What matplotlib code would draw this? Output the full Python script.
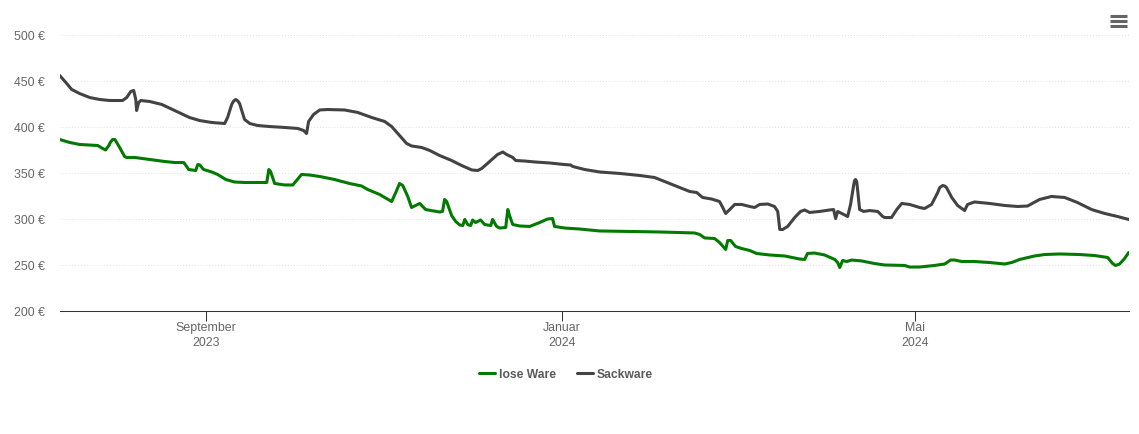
from datetime import date, timedelta
import matplotlib
matplotlib.use("Agg")
import matplotlib.pyplot as plt
import matplotlib.dates as mdates
from matplotlib.transforms import ScaledTranslation

START = date(2023, 7, 13)
END = date(2024, 7, 13)

sack_days = [0,2.1,4.1,6.8,10.3,13.7,17.1,21.5,22.9,24.3,25.3,26,26.3,27,27.7,30.8,34.9,39.3,44.4,47.9,52,56.4,57.4,58.8,59.5,60.2,60.9,61.5,63.2,65,67.7,71.8,76.9,81.4,83.4,84.4,85.1,86.8,88.9,91.6,97.4,101.9,106.7,111.1,113.5,116.2,118.6,120.3,123.8,126.5,129.9,134,137.4,140.9,142.9,144.3,147,149.7,151.5,152.8,154.9,155.9,159,162.4,167.5,172.6,174.7,175.4,179.5,184.6,191.5,198.3,203.4,206.8,212,215.4,217.8,219.8,222.9,225.6,226.7,227.7,229.1,230.8,233.2,235.9,237.6,239.3,242.1,244.4,245.5,246.2,247.2,248.9,251.3,253.3,254.7,256.4,259.8,263.2,264.6,265.3,266,267.4,269.4,270.4,271.5,271.8,272.1,272.5,272.8,273.5,274.9,276.9,279.7,281.4,282.1,284.4,286.2,287.9,290.6,294,295.7,298.1,300.2,300.9,301.9,302.6,303.2,305,307,309.4,310.4,312.8,317.9,323.1,327.5,330.9,335,339.1,343.6,348,352.8,357.3,361.7,365.5]
sack_vals = [456,448.4,440.8,436.4,432,429.9,428.8,428.8,432,438.6,439.7,429.9,417.9,426.6,428.8,427.7,424.5,417.9,410.3,407,404.9,403.8,410.3,424.5,428.3,429.9,428.3,425.6,408.2,403.8,401.6,400.5,399.5,398.4,396.2,392.9,406,413.6,418.5,419,418.5,415.8,410.3,406,400.5,390.8,382.1,379.4,377.7,374.5,369,363.6,358.2,353.3,352.7,354.9,362.5,370.1,372.8,370.1,366.9,363.6,363,362,360.9,359.2,358.7,357.1,353.8,351.1,349.5,347.3,345.1,340.8,334.2,329.9,328.8,323.4,321.7,319,312.5,306,310.3,315.8,315.8,313.6,312.5,315.8,316.3,313.6,308.2,288.6,288.6,291.9,301.6,308.2,309.8,307.1,308.2,309.8,310.3,300.5,308.2,306,302.7,315.8,337.5,341.9,342.9,340.8,332.1,310.3,308.2,309.2,308.2,302.7,301.6,301.6,310.3,316.9,315.8,312.5,311.4,315.8,328.8,334.2,336.4,335.8,334.2,323.4,314.7,309.2,315.8,318.5,316.9,314.7,313.6,314.1,321.2,324.5,323.4,317.9,310.3,306,302.7,299.5]

lose_days = [0,3.4,6.8,10.3,13,14.7,15.7,16.8,17.4,18.1,18.8,19.1,20.5,22.2,22.9,25.6,30.8,35.9,39.3,42.4,43.4,44.1,46.5,47.2,47.9,49.2,52,54,56.8,59.8,63.2,68.4,70.8,71.5,72.1,73.5,76.9,79.7,81,82.7,85.5,88.9,94,99.1,103.2,105.3,109.4,113.5,114.9,116.2,117.3,119,120.3,121.7,123.1,125.1,129.9,130.9,131.6,132.3,134,135.4,136.8,137.8,138.5,139.5,140.5,141.2,142.2,143.9,145.3,147.4,148,149.4,150.4,152.5,153.2,153.8,154.9,157.3,160.7,164.1,166.8,168.5,169.2,172.6,177.8,184.6,194.9,205.1,217.1,218.8,220.5,223.9,225.6,227.7,228.4,229.4,231.1,233.2,235.9,238.3,242.7,247.9,253,254.7,255.7,258.1,261.5,265,266,266.7,267.7,269.1,270.8,274.2,278.6,282.1,288.9,290.6,294,299.1,302.6,304.6,306,308.4,312.8,317.9,323.1,325.5,328.2,333.3,336.8,341.9,348.7,353.8,358.3,360,361,362.4,364.1,365.5]
lose_vals = [386.4,383.2,381,380.4,379.9,376.6,375,379.9,383.7,386.4,386.4,385.3,377.7,367.9,366.9,366.9,364.7,362.5,361.4,361.4,357.1,353.8,352.7,359.2,358.7,353.8,351.1,348.4,342.9,340.2,339.7,339.7,339.7,353.8,351.6,338.6,337,337,341.9,348.4,347.8,346.2,342.9,338.6,335.9,332.1,326.6,319,328.8,338.6,336.4,324.5,312.5,314.7,316.9,310.3,307.6,308.2,321.2,319,303.8,297.3,293.5,292.9,299.5,294,292.9,298.9,296.2,298.9,294,292.9,299.5,291.9,290.2,290.8,310.3,303.8,294,292.4,291.9,296.2,300,300.5,291.9,290.2,289.1,287,286.4,285.9,284.8,283.2,279.4,278.8,274.5,266.9,276.6,276.6,270.1,267.9,265.8,262.5,260.9,259.8,256.5,256,262.5,263,260.9,256,252.7,247.3,254.9,253.8,255.4,254.4,251.6,250,249.5,247.8,247.8,249.5,251.1,255.4,255.4,253.8,253.8,252.7,251.1,252.7,256,259.8,261.4,262,261.4,260.3,258.2,251.6,249.5,251.1,257.1,263.6]

y_ticks = [200, 250, 300, 350, 400, 450, 500]
x_tick_dates = [date(2023, 9, 1), date(2024, 1, 1), date(2024, 5, 1)]
x_tick_labels = ["September\n2023", "Januar\n2024", "Mai\n2024"]
series_names = ["lose Ware", "Sackware"]

W, H = 1139, 434
plt.rcParams["font.family"] = ["Liberation Sans", "DejaVu Sans"]
fig = plt.figure(figsize=(W / 100, H / 100), dpi=100)
ax = fig.add_axes([59.7 / W, (H - 311) / H, 1069 / W, 276 / H])

# The day readings were taken on a 365.5-day span; the axis covers 366 days.
DAY_SCALE = 366 / 365.5

def to_dates(days):
    return [mdates.date2num(START) + d * DAY_SCALE for d in days]

l1, = ax.plot(to_dates(lose_days), lose_vals, color="#007a00", lw=2.2,
              solid_joinstyle="round", solid_capstyle="round", zorder=3)
l2, = ax.plot(to_dates(sack_days), sack_vals, color="#434343", lw=2.2,
              solid_joinstyle="round", solid_capstyle="round", zorder=3)

ax.set_xlim(mdates.date2num(START), mdates.date2num(END))
ax.set_ylim(200, 500)
for s in ("top", "left", "right"):
    ax.spines[s].set_visible(False)
ax.spines["bottom"].set_color("#333333")
ax.spines["bottom"].set_linewidth(0.75)

ax.set_yticks(y_ticks)
ax.set_yticklabels([f"{v} €" for v in y_ticks], fontsize=8.9, color="#666666")
ax.tick_params(axis="y", length=0, pad=10.8)
ax.grid(axis="y", color="#e0e0e0", lw=0.7, ls=(0, (1, 2)))
ax.set_axisbelow(True)
for lab in ax.get_yticklabels():
    lab.set_transform(lab.get_transform() + ScaledTranslation(0, -0.8 / 100, fig.dpi_scale_trans))

ax.set_xticks([mdates.date2num(d) for d in x_tick_dates])
ax.set_xticklabels(x_tick_labels, fontsize=8.9, color="#666666", linespacing=1.3)
ax.tick_params(axis="x", length=7, width=0.75, color="#333333", pad=0.9)

fig.legend([l1, l2], series_names, loc="center", bbox_to_anchor=(566 / W, (H - 374.5) / H),
           ncol=2, frameon=False, handlelength=1.33, handletextpad=0.36,
           columnspacing=1.67, borderpad=0,
           prop={"size": 8.75, "weight": "bold"}, labelcolor="#5a5a5a")

for y in (16, 21, 26):
    fig.add_artist(plt.Line2D([1109.5 / W, 1126.5 / W], [(H - y) / H] * 2, color="#666666",
                              lw=2.2, solid_capstyle="butt"))

fig.savefig("out.png", dpi=100)
